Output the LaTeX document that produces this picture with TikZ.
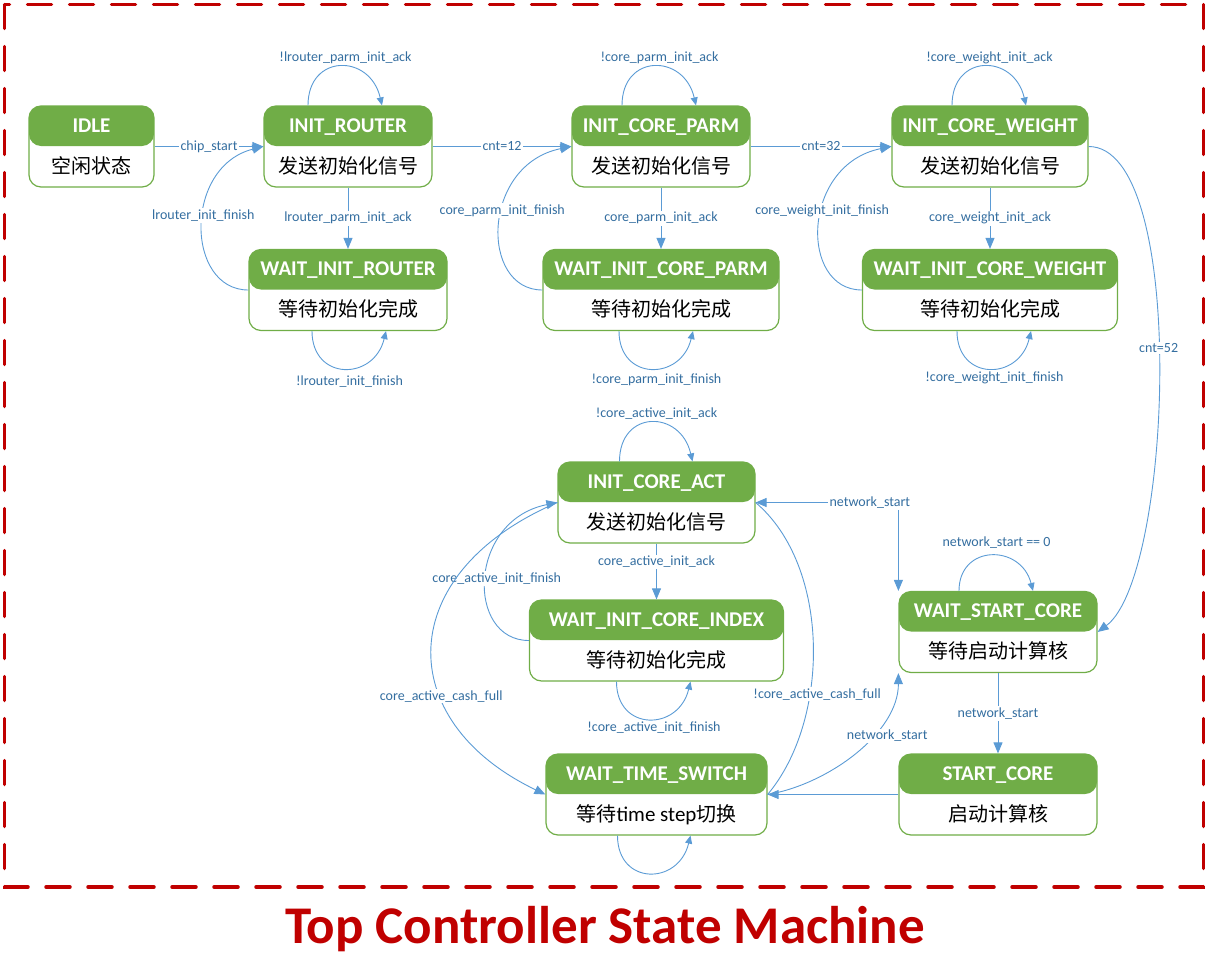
\documentclass[tikz,border=0pt]{standalone}
\usepackage{fontspec}
\setmainfont{Carlito}
\newfontfamily\cjk{Noto Sans CJK SC}
\usepackage{tikz}
\usetikzlibrary{arrows.meta}
\definecolor{grn}{RGB}{112,173,71}
\definecolor{lnk}{RGB}{91,155,213}
\definecolor{lbc}{RGB}{52,110,160}
\definecolor{darkred}{RGB}{192,0,0}

\begin{document}
\begin{tikzpicture}[x=1pt,y=1pt]
\tikzstyle{every node}+=[inner sep=0pt]
\tikzstyle{statebox}=[draw=grn, line width=1.2pt, rounded corners=12pt, minimum height=81pt, fill=white, path picture={\fill [grn] (path picture bounding box.north west) rectangle ([yshift=-40pt]path picture bounding box.north east);}]
\tikzstyle{headtxt}=[anchor=base, text=white, font=\bfseries\fontsize{21}{25}\selectfont]
\tikzstyle{bodytxt}=[anchor=base, font=\cjk\fontsize{20}{24}\selectfont]
\tikzstyle{link}=[draw=lnk, line width=0.9pt, -{Triangle[length=11pt,width=9pt]}]
\tikzstyle{selfloop}=[draw=lnk, line width=0.9pt, -{Triangle[length=8pt,width=7pt]}]
\tikzstyle{lbl}=[fill=white, text=lbc, inner sep=1.5pt, font=\fontsize{14}{16}\selectfont]
\tikzstyle{titletxt}=[anchor=base, text=darkred, font=\bfseries\fontsize{53}{60}\selectfont]
\useasboundingbox (0,0) rectangle (1208,-956);
\draw [darkred, line width=3.5pt, dash pattern=on 24pt off 18pt, line cap=round] (4.5,-4.5) rectangle (1203.5,-887);
% states
\node [statebox, minimum width=125] (idle) at (91.5,-146.5) {};
\node [headtxt] (idle-h) at ([yshift=14.2]idle.center) {IDLE};
\node [bodytxt] (idle-b) at ([yshift=-26.5]idle.center) {空闲状态};
\node [statebox, minimum width=168] (router) at (348,-146.5) {};
\node [headtxt] (router-h) at ([yshift=14.2]router.center) {INIT\_ROUTER};
\node [bodytxt] (router-b) at ([yshift=-26.5]router.center) {发送初始化信号};
\node [statebox, minimum width=198] (wrouter) at (348,-290) {};
\node [headtxt] (wrouter-h) at ([yshift=14.2]wrouter.center) {WAIT\_INIT\_ROUTER};
\node [bodytxt] (wrouter-b) at ([yshift=-26.5]wrouter.center) {等待初始化完成};
\node [statebox, minimum width=178] (parm) at (661,-146.5) {};
\node [headtxt] (parm-h) at ([yshift=14.2]parm.center) {INIT\_CORE\_PARM};
\node [bodytxt] (parm-b) at ([yshift=-26.5]parm.center) {发送初始化信号};
\node [statebox, minimum width=236] (wparm) at (661,-290) {};
\node [headtxt] (wparm-h) at ([yshift=14.2]wparm.center) {WAIT\_INIT\_CORE\_PARM};
\node [bodytxt] (wparm-b) at ([yshift=-26.5]wparm.center) {等待初始化完成};
\node [statebox, minimum width=196] (weight) at (990,-146.5) {};
\node [headtxt] (weight-h) at ([yshift=14.2]weight.center) {INIT\_CORE\_WEIGHT};
\node [bodytxt] (weight-b) at ([yshift=-26.5]weight.center) {发送初始化信号};
\node [statebox, minimum width=255] (wweight) at (990,-290) {};
\node [headtxt] (wweight-h) at ([yshift=14.2]wweight.center) {WAIT\_INIT\_CORE\_WEIGHT};
\node [bodytxt] (wweight-b) at ([yshift=-26.5]wweight.center) {等待初始化完成};
\node [statebox, minimum width=197] (act) at (656.5,-502.5) {};
\node [headtxt] (act-h) at ([yshift=14.2]act.center) {INIT\_CORE\_ACT};
\node [bodytxt] (act-b) at ([yshift=-26.5]act.center) {发送初始化信号};
\node [statebox, minimum width=254] (index) at (656.5,-640.5) {};
\node [headtxt] (index-h) at ([yshift=14.2]index.center) {WAIT\_INIT\_CORE\_INDEX};
\node [bodytxt] (index-b) at ([yshift=-26.5]index.center) {等待初始化完成};
\node [statebox, minimum width=221] (tswitch) at (656.5,-794.5) {};
\node [headtxt] (tswitch-h) at ([yshift=14.2]tswitch.center) {WAIT\_TIME\_SWITCH};
\node [bodytxt] (tswitch-b) at ([yshift=-26.5]tswitch.center) {等待{\rmfamily\fontsize{21}{24}\selectfont time step}切换};
\node [statebox, minimum width=198] (wstart) at (998,-632) {};
\node [headtxt] (wstart-h) at ([yshift=14.2]wstart.center) {WAIT\_START\_CORE};
\node [bodytxt] (wstart-b) at ([yshift=-26.5]wstart.center) {等待启动计算核};
\node [statebox, minimum width=198] (start) at (998,-794.5) {};
\node [headtxt] (start-h) at ([yshift=14.2]start.center) {START\_CORE};
\node [bodytxt] (start-b) at ([yshift=-26.5]start.center) {启动计算核};
% transitions
\draw [link] (idle.east) -- (router.west) node [lbl, midway] {chip\_start};
\draw [link] (router.east) -- (parm.west) node [lbl, midway] {cnt=12};
\draw [link] (parm.east) -- (weight.west) node [lbl, midway] {cnt=32};
\draw [link] (router.south) -- (wrouter.north) node [lbl, midway] {lrouter\_parm\_init\_ack};
\draw [link] (parm.south) -- (wparm.north) node [lbl, midway] {core\_parm\_init\_ack};
\draw [link] (weight.south) -- (wweight.north) node [lbl, midway] {core\_weight\_init\_ack};
\draw [link] (act.south) -- (index.north) node [lbl, pos=.33] {core\_active\_init\_ack};
\draw [link] (wstart.south) -- (start.north) node [lbl, midway] {network\_start};
\draw [link] (start.west) -- (tswitch.east);
\draw [link] (wrouter.west) .. controls +(-63,0) and +(-80,-20) .. (router.west) node [lbl, pos=.55] {lrouter\_init\_finish};
\draw [link] (wparm.west) .. controls +(-63,0) and +(-90,-18) .. (parm.west) node [lbl, pos=.57] {core\_parm\_init\_finish};
\draw [link] (wweight.west) .. controls +(-63,0) and +(-90,-18) .. (weight.west) node [lbl, pos=.57] {core\_weight\_init\_finish};
\draw [link] (index.west) .. controls +(-63,0) and +(-90,-18) .. (act.west) node [lbl, pos=.5, xshift=11] {core\_active\_init\_finish};
\draw [link] (act.west) .. controls +(-164,-70) and +(-154,74) .. (tswitch.west) node [lbl, pos=.65] {core\_active\_cash\_full};
\draw [link, -] (act.east) .. controls +(75,-63.5) and +(63,75) .. (tswitch.east) node [lbl, pos=.65, xshift=7] {!core\_active\_cash\_full};
\draw [link, {Triangle[length=11pt,width=9pt]}-{Triangle[length=11pt,width=9pt]}] (act.east) -| (wstart.north west) node [lbl, pos=.4] {network\_start};
\draw [link] (tswitch.east) .. controls +(60,10) and +(0,-60) .. (wstart.south west) node [lbl, pos=.62, xshift=15] {network\_start};
\draw [link] (weight.east) .. controls +(100,0) and +(75,55) .. (wstart.east) node [lbl, pos=.47] {cnt=52};
% self loops
\draw [selfloop] ([xshift=-40]router.north) .. controls +(0,52) and +(-12,52) .. ([xshift=34]router.north) node [lbl, pos=.5, above=1pt, xshift=5] {!lrouter\_parm\_init\_ack};
\draw [selfloop] ([xshift=-39]parm.north) .. controls +(0,52) and +(-12,52) .. ([xshift=35]parm.north) node [lbl, pos=.5, above=1pt, xshift=5] {!core\_parm\_init\_ack};
\draw [selfloop] ([xshift=-38]weight.north) .. controls +(0,52) and +(-12,52) .. ([xshift=36]weight.north) node [lbl, pos=.5, above=1pt, xshift=5] {!core\_weight\_init\_ack};
\draw [selfloop] ([xshift=-37]act.north) .. controls +(0,52) and +(-12,52) .. ([xshift=36]act.north) node [lbl, pos=.5, above=1pt, xshift=5] {!core\_active\_init\_ack};
\draw [selfloop] ([xshift=-39]wstart.north) .. controls +(0,47) and +(-12,47) .. ([xshift=35]wstart.north) node [lbl, pos=.5, above=5pt, xshift=5] {network\_start == 0};
\draw [selfloop] ([xshift=-36]wrouter.south) .. controls +(0,-50) and +(-12,-50) .. ([xshift=38]wrouter.south) node [lbl, pos=.5, below=5pt, xshift=5] {!lrouter\_init\_finish};
\draw [selfloop] ([xshift=-42]wparm.south) .. controls +(0,-50) and +(-12,-50) .. ([xshift=32]wparm.south) node [lbl, pos=.5, below=3pt, xshift=5] {!core\_parm\_init\_finish};
\draw [selfloop] ([xshift=-33]wweight.south) .. controls +(0,-50) and +(-12,-50) .. ([xshift=41]wweight.south) node [lbl, pos=.5, below=1pt, xshift=5] {!core\_weight\_init\_finish};
\draw [selfloop] ([xshift=-40]index.south) .. controls +(0,-50) and +(-12,-50) .. ([xshift=34]index.south) node [lbl, pos=.5, below=1pt, xshift=5] {!core\_active\_init\_finish};
\draw [selfloop] ([xshift=-39]tswitch.south) .. controls +(0,-50) and +(-12,-50) .. ([xshift=34]tswitch.south);
% caption
\node [titletxt] (title) at (605,-943) {Top Controller State Machine};
\end{tikzpicture}
\end{document}
